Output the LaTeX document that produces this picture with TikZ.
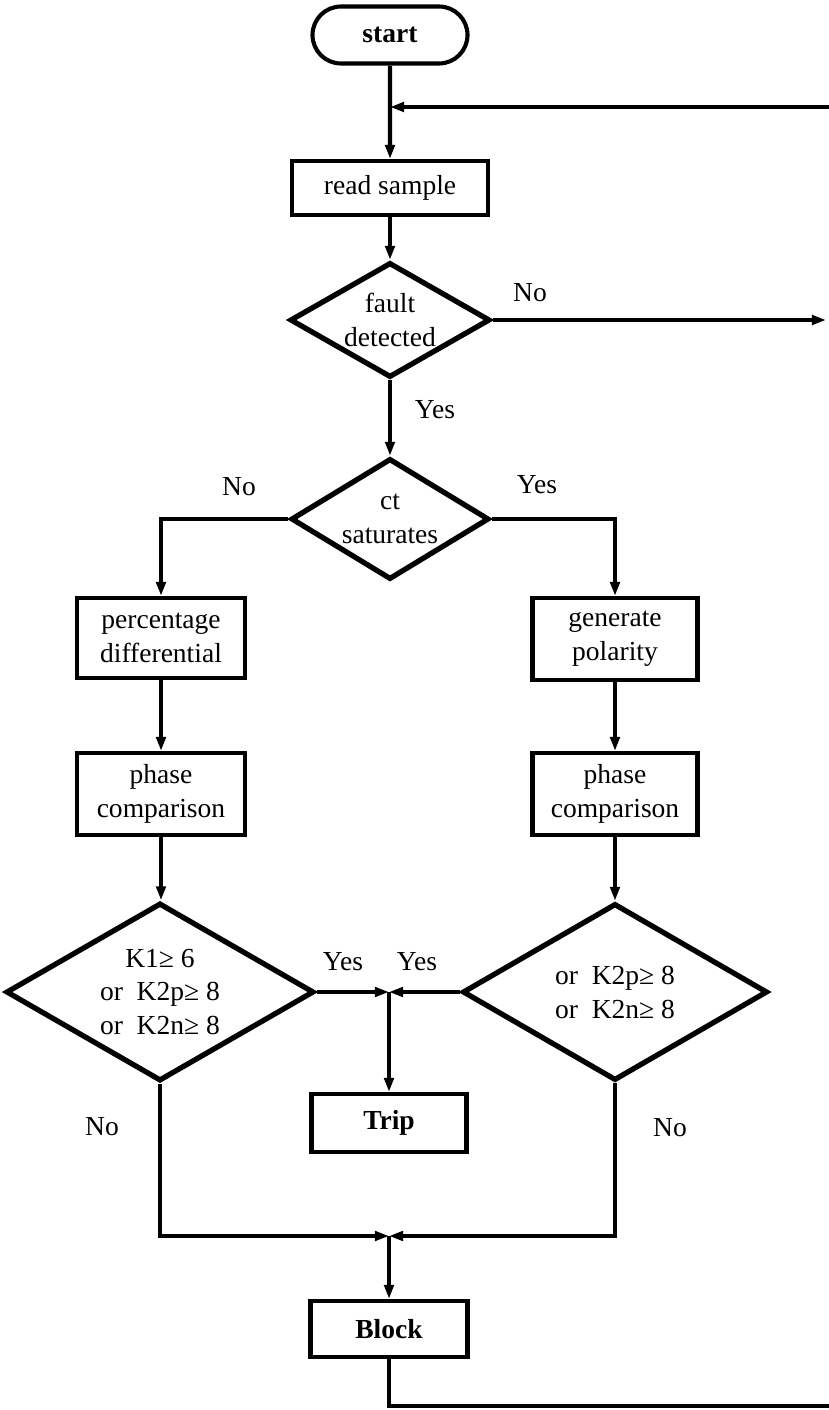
\documentclass[tikz,border=0pt]{standalone}
\usepackage{fontspec}
\setmainfont{Liberation Serif}
\usepackage{tikz}
\usetikzlibrary{arrows.meta,shapes.geometric,shapes.misc,positioning,calc}

\begin{document}
\begin{tikzpicture}[x=0.03cm, y=-0.03cm,
    font=\fontsize{23.5}{29}\selectfont,
    >={Triangle[length=12pt,width=8pt]},
    line width=3.5pt,
    procbox/.style={draw, rectangle, align=center, inner sep=0pt},
    decision/.style={draw, diamond, align=center, inner sep=0pt, aspect=1.75, line width=4.5pt},
    terminal/.style={draw, rounded rectangle, inner sep=0pt, minimum width=4.65cm, minimum height=1.71cm}]
    \useasboundingbox (0,0) rectangle (828,1410);

    % Top of the loop
    \node[terminal] (start) at (390,35) {\textbf{start}};
    \node[procbox, minimum width=5.9cm, minimum height=1.62cm] (read) at (390,188) {read sample};
    \node[decision, minimum width=6cm, minimum height=3.45cm] (fault) at (390,320) {fault\\detected};
    \node[decision, minimum width=5.94cm, minimum height=3.63cm] (ct) at (390,519) {ct\\saturates};

    % Left branch
    \node[procbox, minimum width=5.04cm, minimum height=2.4cm] (pct) at (161,638) {percentage\\differential};
    \node[procbox, minimum width=5.04cm, minimum height=2.46cm] (phL) at (161,794) {phase\\comparison};
    \node[decision, minimum width=9.24cm, minimum height=5.34cm, aspect=1.7] (dL) at (160,992)
        {K1≥ 6\\or~~K2p≥ 8\\or~~K2n≥ 8};

    % Right branch
    \node[procbox, minimum width=4.95cm, minimum height=2.46cm] (gen) at (615,639) {generate\\polarity};
    \node[procbox, minimum width=4.95cm, minimum height=2.46cm] (phR) at (615,794) {phase\\comparison};
    \node[decision, minimum width=9.15cm, minimum height=5.31cm, aspect=1.7] (dR) at (615,992)
        {or~~K2p≥ 8\\or~~K2n≥ 8};

    % Outcomes
    \node[procbox, minimum width=4.65cm, minimum height=1.74cm] (trip) at (389,1123) {\textbf{Trip}};
    \node[procbox, minimum width=4.71cm, minimum height=1.68cm] (block) at (389,1329) {\textbf{Block}};

    % Junctions and loop ends
    \coordinate (fbJ) at (390,107);
    \coordinate (fbR) at (830,107);
    \coordinate (noR) at (826,320);
    \coordinate (mT) at (389,992);
    \coordinate (mB) at (389,1236);
    \coordinate (botR) at (830,1406);

    % Labels
    \node (noFault) at (530,293) {No};
    \node (yesFault) at (435,410) {Yes};
    \node (noCt) at (239,487) {No};
    \node (yesCt) at (537,485) {Yes};
    \node (yesL) at (343,962) {Yes};
    \node (yesR) at (417,962) {Yes};
    \node (noL) at (102,1127) {No};
    \node (noR2) at (670,1128) {No};

    % Connectors
    \draw[->] (start) -- (read);
    \draw[->] (fbR) -- (fbJ);
    \draw[->] (read) -- (fault);
    \draw[->] (fault.east) -- (noR);
    \draw[->] (fault) -- (ct);
    \draw[->] (ct.west) -| (pct.north);
    \draw[->] (ct.east) -| (gen.north);
    \draw[->] (pct) -- (phL);
    \draw[->] (gen) -- (phR);
    \draw[->] (phL.south) -- (phL.south |- dL.north);
    \draw[->] (phR) -- (dR);
    \draw[->] (dL.east) -- (mT);
    \draw[->] (dR.west) -- (mT);
    \draw[->] (mT) -- (trip);
    \draw[->] (dL.south) |- (mB);
    \draw[->] (dR.south) |- (mB);
    \draw[->] (mB) -- (block);
    \draw (block.south) |- (botR);
\end{tikzpicture}
\end{document}
